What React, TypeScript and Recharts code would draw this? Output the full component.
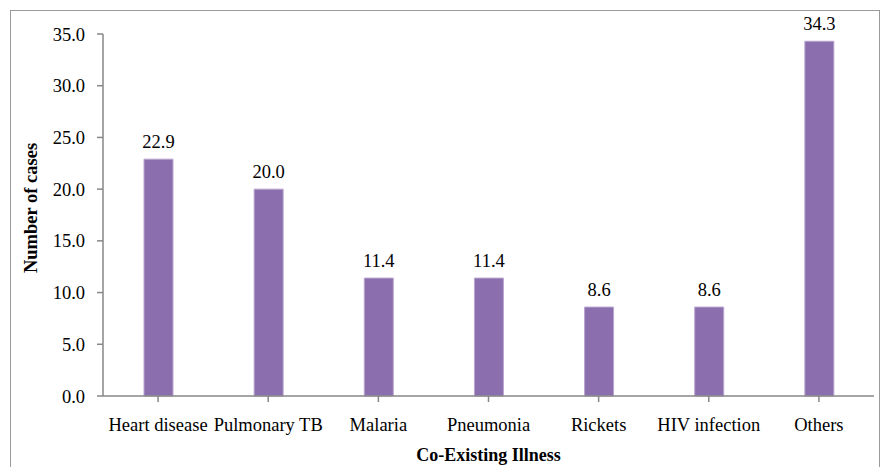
import {BarChart, Bar, XAxis, YAxis, LabelList} from 'recharts'

const illnesses: string[] = ['Heart disease', 'Pulmonary TB', 'Malaria', 'Pneumonia', 'Rickets', 'HIV infection', 'Others']
const cases: number[] = [22.9, 20.0, 11.4, 11.4, 8.6, 8.6, 34.3]
const yTicks: number[] = [0, 5, 10, 15, 20, 25, 30, 35]

const FONT = 'Liberation Serif'

const App = () => {
    const data = illnesses.map((name, i) => ({name: name, value: cases[i]}))
    return (
        <div style={{position: 'absolute', left: 0, top: 0, width: 882, height: 467, background: '#fff', overflow: 'hidden', fontFamily: FONT}}>
            <style>{`.recharts-wrapper text, .recharts-text { font-family: 'Liberation Serif', serif !important; }`}</style>
            <div style={{position: 'absolute', left: 10, top: 10, width: 868, height: 470, border: '1.5px solid #9a9a9a', borderBottom: 'none'}} />
            <BarChart width={882} height={467} data={data} margin={{top: 34, right: 8, left: 0, bottom: 0}} style={{position: 'absolute', left: 0, top: 0, fontFamily: FONT}}>
                <XAxis
                    dataKey='name'
                    interval={0}
                    height={71}
                    stroke='#878787'
                    strokeWidth={1.5}
                    tickSize={6}
                    tickMargin={16}
                    tick={{fill: '#000', fontSize: 18.5, fontFamily: FONT}}
                    label={{value: 'Co-Existing Illness', position: 'insideBottom', offset: 6, fill: '#000', fontSize: 18, fontWeight: 'bold', fontFamily: FONT}}
                />
                <YAxis
                    width={103}
                    domain={[0, 35]}
                    ticks={yTicks}
                    interval={0}
                    stroke='#878787'
                    strokeWidth={1.5}
                    tickSize={6}
                    tickMargin={12}
                    tickFormatter={(v: number) => v.toFixed(1)}
                    tick={{fill: '#000', fontSize: 18.5, fontFamily: FONT}}
                    label={{value: 'Number of cases', angle: -90, position: 'insideLeft', offset: 30, dy: -7, fill: '#000', fontSize: 18.5, fontWeight: 'bold', fontFamily: FONT, style: {textAnchor: 'middle'}}}
                />
                <Bar dataKey='value' fill='#8B6EAD' stroke='#B9A6D0' strokeWidth={1} barSize={29} isAnimationActive={false}>
                    <LabelList dataKey='value' position='top' offset={11} formatter={(v: any) => Number(v).toFixed(1)} style={{fill: '#000', fontSize: 18.5, fontFamily: FONT}} />
                </Bar>
            </BarChart>
        </div>
    )
}

export default App
